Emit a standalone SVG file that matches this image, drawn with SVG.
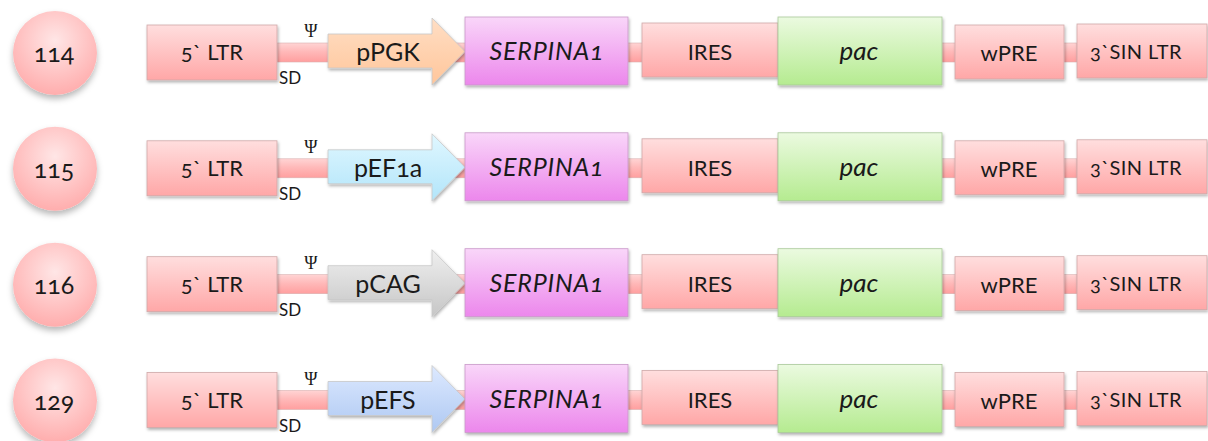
<svg xmlns="http://www.w3.org/2000/svg" width="1208" height="441" viewBox="0 0 1208 441">
  <defs>
    <linearGradient id="gPink" x1="0" y1="0" x2="0" y2="1">
      <stop offset="0" stop-color="#ffdede"/>
      <stop offset="1" stop-color="#ffa7a7"/>
    </linearGradient>
    <linearGradient id="gBand" x1="0" y1="0" x2="0" y2="1">
      <stop offset="0" stop-color="#ffd4d4"/>
      <stop offset="0.45" stop-color="#ffb9b9"/>
      <stop offset="1" stop-color="#ff9f9f"/>
    </linearGradient>
    <linearGradient id="gMagenta" x1="0" y1="0" x2="0" y2="1">
      <stop offset="0" stop-color="#f9d6f9"/>
      <stop offset="1" stop-color="#ec87ec"/>
    </linearGradient>
    <linearGradient id="gGreen" x1="0" y1="0" x2="0" y2="1">
      <stop offset="0" stop-color="#ebfae0"/>
      <stop offset="1" stop-color="#b5eb90"/>
    </linearGradient>
    <linearGradient id="gOrange" x1="0" y1="0" x2="0" y2="1">
      <stop offset="0" stop-color="#ffdec4"/>
      <stop offset="1" stop-color="#ffc69b"/>
    </linearGradient>
    <linearGradient id="gCyan" x1="0" y1="0" x2="0" y2="1">
      <stop offset="0" stop-color="#e0f7ff"/>
      <stop offset="1" stop-color="#b2e5fa"/>
    </linearGradient>
    <linearGradient id="gGray" x1="0" y1="0" x2="0" y2="1">
      <stop offset="0" stop-color="#efefef"/>
      <stop offset="1" stop-color="#c6c6c6"/>
    </linearGradient>
    <linearGradient id="gBlue" x1="0" y1="0" x2="0" y2="1">
      <stop offset="0" stop-color="#dde9ff"/>
      <stop offset="1" stop-color="#aec8f2"/>
    </linearGradient>
    <radialGradient id="gCircle" cx="0.5" cy="0.35" r="0.7">
      <stop offset="0" stop-color="#ffe6e6"/>
      <stop offset="1" stop-color="#ffa9a9"/>
    </radialGradient>
    <filter id="sh" x="-10%" y="-20%" width="120%" height="150%">
      <feDropShadow dx="1" dy="2" stdDeviation="1.5" flood-color="#000" flood-opacity="0.3"/>
    </filter>
    <filter id="csh" x="-20%" y="-20%" width="140%" height="150%">
      <feDropShadow dx="0" dy="4" stdDeviation="3" flood-color="#000" flood-opacity="0.28"/>
    </filter>
    <!-- vector backbone band running behind every element of a row -->
    <g id="band">
      <rect x="277" y="43" width="800" height="19" fill="url(#gBand)" stroke="#d9b0b0" stroke-width="0.6"/>
    </g>
  </defs>
  <style>
    .box { stroke: #cfa9a9; stroke-width: 0.8; filter: url(#sh); }
    .mag { stroke: #c99ac9; }
    .grn { stroke: #a9c99a; }
    .arr { stroke: #c8c8c8; stroke-width: 0.8; filter: url(#sh); }
    .circ { fill: url(#gCircle); filter: url(#csh); }
    text { font-family: "Lato", "Open Sans", "Liberation Sans", sans-serif; fill: #1a1a1a; text-anchor: middle; font-variant-numeric: oldstyle-nums; }
    .num { font-size: 25px; }
    .lbl { font-size: 22px; }
    .ital { font-style: italic; font-size: 25px; letter-spacing: 0.8px; }
    .pac { font-style: italic; font-size: 26px; }
    .prom { font-size: 25px; }
    .small { font-size: 20px; letter-spacing: 0.4px; }
    .psi { font-family: "Liberation Serif", "DejaVu Serif", serif; font-size: 18px; }
    .sd { font-size: 17px; text-anchor: start; }
  </style>

  <!-- backbone bands (connectors) -->
  <g id="connectors">
    <use href="#band"/>
    <use href="#band" transform="translate(0,115.8)"/>
    <use href="#band" transform="translate(0,231.7)"/>
    <use href="#band" transform="translate(0,347.5)"/>
  </g>

  <!-- construct 114 -->
  <g id="row114">
    <g id="id114"><circle class="circ" cx="55" cy="53" r="42"/><text class="num" x="54" y="62">114</text></g>
    <g id="ltr5-114"><rect class="box" x="147" y="25" width="130" height="55" fill="url(#gPink)"/><text class="lbl" x="212" y="60">5` LTR</text></g>
    <g id="psi-114"><text class="psi" x="311" y="37">Ψ</text></g>
    <g id="sd-114"><text class="sd" x="279" y="84">SD</text></g>
    <g id="prom-114"><path class="arr" d="M328,34 H432 V18 L465,51.5 L432,85 V68 H328 Z" fill="url(#gOrange)"/><text class="prom" x="388" y="61">pPGK</text></g>
    <g id="serpina1-114"><rect class="box mag" x="465" y="17" width="163" height="68" fill="url(#gMagenta)"/><text class="ital" x="547" y="60">SERPINA1</text></g>
    <g id="ires-114"><rect class="box" x="642" y="23" width="136" height="54" fill="url(#gPink)"/><text class="lbl" x="710" y="60">IRES</text></g>
    <g id="pac-114"><rect class="box grn" x="778" y="17" width="164" height="68" fill="url(#gGreen)"/><text class="pac" x="859" y="60">pac</text></g>
    <g id="wpre-114"><rect class="box" x="955" y="25" width="109" height="54" fill="url(#gPink)"/><text class="lbl" x="1009" y="61">wPRE</text></g>
    <g id="ltr3-114"><rect class="box" x="1077" y="24" width="130" height="54" fill="url(#gPink)"/><text class="small" x="1136" y="59">3`SIN LTR</text></g>
  </g>

  <!-- construct 115 -->
  <g id="row115" transform="translate(0,115.8)">
    <g id="id115"><circle class="circ" cx="55" cy="53" r="42"/><text class="num" x="54" y="62">115</text></g>
    <g id="ltr5-115"><rect class="box" x="147" y="25" width="130" height="55" fill="url(#gPink)"/><text class="lbl" x="212" y="60">5` LTR</text></g>
    <g id="psi-115"><text class="psi" x="311" y="37">Ψ</text></g>
    <g id="sd-115"><text class="sd" x="279" y="84">SD</text></g>
    <g id="prom-115"><path class="arr" d="M328,34 H432 V18 L465,51.5 L432,85 V68 H328 Z" fill="url(#gCyan)"/><text class="prom" x="388" y="61">pEF1a</text></g>
    <g id="serpina1-115"><rect class="box mag" x="465" y="17" width="163" height="68" fill="url(#gMagenta)"/><text class="ital" x="547" y="60">SERPINA1</text></g>
    <g id="ires-115"><rect class="box" x="642" y="23" width="136" height="54" fill="url(#gPink)"/><text class="lbl" x="710" y="60">IRES</text></g>
    <g id="pac-115"><rect class="box grn" x="778" y="17" width="164" height="68" fill="url(#gGreen)"/><text class="pac" x="859" y="60">pac</text></g>
    <g id="wpre-115"><rect class="box" x="955" y="25" width="109" height="54" fill="url(#gPink)"/><text class="lbl" x="1009" y="61">wPRE</text></g>
    <g id="ltr3-115"><rect class="box" x="1077" y="24" width="130" height="54" fill="url(#gPink)"/><text class="small" x="1136" y="59">3`SIN LTR</text></g>
  </g>

  <!-- construct 116 -->
  <g id="row116" transform="translate(0,231.7)">
    <g id="id116"><circle class="circ" cx="55" cy="53" r="42"/><text class="num" x="54" y="62">116</text></g>
    <g id="ltr5-116"><rect class="box" x="147" y="25" width="130" height="55" fill="url(#gPink)"/><text class="lbl" x="212" y="60">5` LTR</text></g>
    <g id="psi-116"><text class="psi" x="311" y="37">Ψ</text></g>
    <g id="sd-116"><text class="sd" x="279" y="84">SD</text></g>
    <g id="prom-116"><path class="arr" d="M328,34 H432 V18 L465,51.5 L432,85 V68 H328 Z" fill="url(#gGray)"/><text class="prom" x="388" y="61">pCAG</text></g>
    <g id="serpina1-116"><rect class="box mag" x="465" y="17" width="163" height="68" fill="url(#gMagenta)"/><text class="ital" x="547" y="60">SERPINA1</text></g>
    <g id="ires-116"><rect class="box" x="642" y="23" width="136" height="54" fill="url(#gPink)"/><text class="lbl" x="710" y="60">IRES</text></g>
    <g id="pac-116"><rect class="box grn" x="778" y="17" width="164" height="68" fill="url(#gGreen)"/><text class="pac" x="859" y="60">pac</text></g>
    <g id="wpre-116"><rect class="box" x="955" y="25" width="109" height="54" fill="url(#gPink)"/><text class="lbl" x="1009" y="61">wPRE</text></g>
    <g id="ltr3-116"><rect class="box" x="1077" y="24" width="130" height="54" fill="url(#gPink)"/><text class="small" x="1136" y="59">3`SIN LTR</text></g>
  </g>

  <!-- construct 129 -->
  <g id="row129" transform="translate(0,347.5)">
    <g id="id129"><circle class="circ" cx="55" cy="53" r="42"/><text class="num" x="54" y="62">129</text></g>
    <g id="ltr5-129"><rect class="box" x="147" y="25" width="130" height="55" fill="url(#gPink)"/><text class="lbl" x="212" y="60">5` LTR</text></g>
    <g id="psi-129"><text class="psi" x="311" y="37">Ψ</text></g>
    <g id="sd-129"><text class="sd" x="279" y="84">SD</text></g>
    <g id="prom-129"><path class="arr" d="M328,34 H432 V18 L465,51.5 L432,85 V68 H328 Z" fill="url(#gBlue)"/><text class="prom" x="388" y="61">pEFS</text></g>
    <g id="serpina1-129"><rect class="box mag" x="465" y="17" width="163" height="68" fill="url(#gMagenta)"/><text class="ital" x="547" y="60">SERPINA1</text></g>
    <g id="ires-129"><rect class="box" x="642" y="23" width="136" height="54" fill="url(#gPink)"/><text class="lbl" x="710" y="60">IRES</text></g>
    <g id="pac-129"><rect class="box grn" x="778" y="17" width="164" height="68" fill="url(#gGreen)"/><text class="pac" x="859" y="60">pac</text></g>
    <g id="wpre-129"><rect class="box" x="955" y="25" width="109" height="54" fill="url(#gPink)"/><text class="lbl" x="1009" y="61">wPRE</text></g>
    <g id="ltr3-129"><rect class="box" x="1077" y="24" width="130" height="54" fill="url(#gPink)"/><text class="small" x="1136" y="59">3`SIN LTR</text></g>
  </g>
</svg>
